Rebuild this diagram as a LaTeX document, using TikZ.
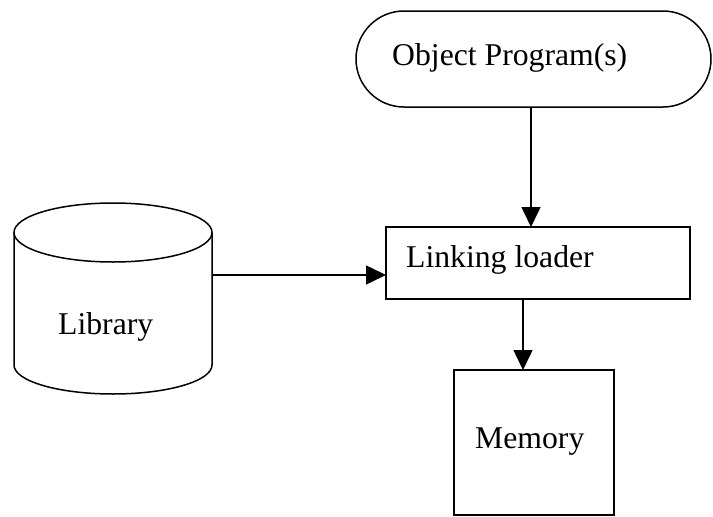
\documentclass[tikz,border=0pt]{standalone}
\usepackage{fontspec}
\setmainfont{Liberation Serif}
\usetikzlibrary{shapes.misc,arrows.meta}
\begin{document}
\begin{tikzpicture}[x=1pt,y=-1pt,
  shapeline/.style={draw=black,line width=1.5pt,inner sep=0pt,outer sep=0pt},
  lbl/.style={anchor=base west,inner sep=0pt,font=\fontsize{31.7}{38}\selectfont},
  arr/.style={line width=1.5pt,-{Triangle[length=20pt,width=19pt]}}]
\useasboundingbox (0,0) rectangle (713,517);
% Object program(s) terminator
\node[shapeline,rounded rectangle,minimum width=355pt,minimum height=96pt] (obj) at (533.5,59) {};
% Linking loader
\node[shapeline,rectangle,minimum width=304pt,minimum height=72pt] (link) at (538,263) {};
% Memory
\node[shapeline,rectangle,minimum width=160pt,minimum height=145pt] (mem) at (534,442.5) {};
% Library cylinder (named frame node + drawn outline)
\node[inner sep=0pt,outer sep=0pt,minimum width=198pt,minimum height=191pt] (lib) at (113,298.5) {};
\draw[line width=1.5pt] (113,232.5) ellipse [x radius=99pt,y radius=29.5pt];
\draw[line width=1.5pt] (14,232.5) -- (14,365) arc[start angle=180,end angle=360,x radius=99pt,y radius=29pt] -- (212,232.5);
% texts
\node[lbl] (objt) at (392,65) {Object Program(s)};
\node[lbl] (linkt) at (406,267) {Linking loader};
\node[lbl] (libt) at (58,334) {Library};
\node[lbl] (memt) at (475,448) {Memory};
% connectors
\draw[arr] (obj.south -| 531,0) -- (link.north -| 531,0);
\draw[arr] (lib.east |- 0,275) -- (link.west |- 0,275);
\draw[arr] (link.south -| 523,0) -- (mem.north -| 523,0);
\end{tikzpicture}
\end{document}
